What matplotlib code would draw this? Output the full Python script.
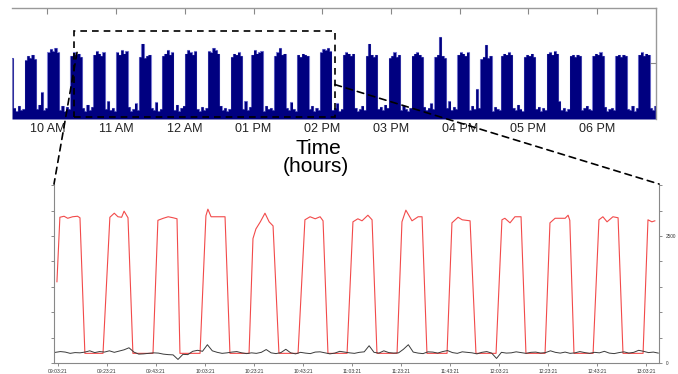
import numpy as np
import matplotlib.pyplot as plt
from matplotlib.patches import Rectangle, ConnectionPatch

plt.rcParams['font.family'] = ['Liberation Sans', 'DejaVu Sans']

# ---- top panel: load, one sample every 2 minutes starting 09:29 ----
top_start_h = 9 + 29 / 60
top_step_min = 2
top_load = [
    0.55, 0.10, 0.07, 0.12, 0.08, 0.09,
    0.53, 0.57, 0.55, 0.58, 0.54, 0.09, 0.13, 0.24, 0.08, 0.10,
    0.60, 0.63, 0.61, 0.64, 0.60, 0.08, 0.12, 0.07, 0.11, 0.09,
    0.57, 0.60, 0.58, 0.59, 0.56, 0.10, 0.07, 0.13, 0.08, 0.11,
    0.58, 0.61, 0.59, 0.57, 0.60, 0.09, 0.16, 0.08, 0.10, 0.07,
    0.60, 0.58, 0.62, 0.59, 0.61, 0.11, 0.07, 0.09, 0.14, 0.08,
    0.56, 0.68, 0.55, 0.57, 0.58, 0.10, 0.08, 0.15, 0.07, 0.09,
    0.57, 0.59, 0.62, 0.58, 0.60, 0.08, 0.13, 0.07, 0.10, 0.12,
    0.59, 0.62, 0.60, 0.58, 0.61, 0.09, 0.07, 0.11, 0.08, 0.10,
    0.61, 0.60, 0.64, 0.62, 0.59, 0.12, 0.08, 0.10, 0.07, 0.09,
    0.56, 0.59, 0.58, 0.60, 0.57, 0.09, 0.16, 0.08, 0.11,
    0.58, 0.62, 0.59, 0.60, 0.61, 0.07, 0.12, 0.09, 0.10, 0.08,
    0.57, 0.60, 0.64, 0.58, 0.59, 0.10, 0.08, 0.15, 0.09, 0.07,
    0.58, 0.56, 0.59, 0.58, 0.57, 0.09, 0.12, 0.07, 0.10, 0.08,
    0.60, 0.63, 0.62, 0.64, 0.61, 0.08, 0.10, 0.14, 0.07, 0.09,
    0.58, 0.60, 0.59, 0.57, 0.59, 0.10, 0.07, 0.09, 0.12, 0.08,
    0.57, 0.68, 0.58, 0.56, 0.58, 0.09, 0.11, 0.08, 0.13, 0.10,
    0.55, 0.57, 0.60, 0.56, 0.58, 0.08, 0.12, 0.09, 0.07, 0.10,
    0.57, 0.59, 0.60, 0.58, 0.56, 0.11, 0.08, 0.10, 0.14, 0.09,
    0.56, 0.58, 0.74, 0.57, 0.55, 0.10, 0.16, 0.08, 0.11, 0.09,
    0.58, 0.60, 0.59, 0.57, 0.60, 0.08, 0.12, 0.09, 0.27, 0.10,
    0.54, 0.56, 0.67, 0.55, 0.57, 0.07, 0.11, 0.09, 0.08,
    0.57, 0.59, 0.58, 0.60, 0.58, 0.10, 0.08, 0.13, 0.09, 0.07,
    0.56, 0.58, 0.57, 0.59, 0.56, 0.09, 0.11, 0.07, 0.10, 0.08,
    0.59, 0.60, 0.58, 0.61, 0.59, 0.16, 0.08, 0.10, 0.07, 0.09,
    0.57, 0.58, 0.56, 0.58, 0.57, 0.08, 0.10, 0.12, 0.09, 0.08,
    0.57, 0.59, 0.58, 0.60, 0.57, 0.11, 0.07, 0.09, 0.10, 0.08,
    0.57, 0.58, 0.56, 0.58, 0.57, 0.09, 0.08, 0.12, 0.07, 0.10,
    0.58, 0.60, 0.57, 0.59, 0.58, 0.10, 0.08, 0.12,
]
top_hours = [10, 11, 12, 13, 14, 15, 16, 17, 18]
top_labels = ['10 AM', '11 AM', '12 AM', '01 PM', '02 PM', '03 PM', '04 PM', '05 PM', '06 PM']
zoom_window = (10.386, 14.185)

# ---- bottom panel: minutes after 09:03:21 ----
red_t = [-0.4, 0.8, 2.5, 4.0, 6.0, 8.0, 9.0, 11.0,
         18.4, 21.2, 23.0, 24.5, 26.0, 27.0, 28.6, 30.6,
         38.8, 40.8, 43.0, 45.0, 47.0, 48.6, 49.8,
         58.0, 60.4, 61.2, 62.5, 65.0, 68.2, 70.2,
         78.0, 79.6, 80.8, 82.6, 84.5, 86.2, 87.8, 90.2,
         98.0, 100.8, 102.9, 105.0, 107.0, 108.2, 110.2,
         118.0, 120.4, 122.4, 124.1, 126.5, 128.2, 130.2,
         138.4, 140.4, 142.0, 144.5, 147.0, 148.6, 150.6,
         158.8, 160.8, 163.3, 165.0, 168.2, 170.6,
         178.8, 181.2, 182.4, 184.5, 186.5, 189.0, 191.0,
         198.8, 200.8, 202.9, 207.0, 208.2, 208.9, 210.6,
         218.4, 220.8, 222.4, 224.1, 226.5, 228.6, 230.6,
         238.8, 240.8, 242.4, 243.6]
red_v = [1600, 2870, 2890, 2850, 2880, 2890, 2860, 190,
         190, 2870, 2950, 2880, 2870, 2990, 2860, 190,
         190, 2810, 2850, 2880, 2860, 2840, 190,
         190, 2900, 3030, 2880, 2880, 2880, 190,
         190, 2450, 2640, 2780, 2950, 2780, 2700, 190,
         190, 2820, 2880, 2840, 2880, 2800, 190,
         190, 2780, 2840, 2800, 2910, 2820, 190,
         190, 2780, 3010, 2800, 2880, 2880, 190,
         190, 2760, 2870, 2820, 2800, 190,
         190, 2820, 2850, 2760, 2880, 2880, 190,
         190, 2760, 2850, 2850, 2910, 2810, 190,
         190, 2820, 2880, 2780, 2880, 2860, 190,
         190, 2820, 2780, 2800]
black_start = -1
black_step = 2
black_v = [210, 225, 215, 190, 205, 200, 215, 240, 205, 225,
           215, 240, 210, 235, 260, 300, 215, 175, 180, 190,
           200, 195, 175, 165, 160, 70, 170, 165, 230, 250,
           230, 360, 240, 210, 190, 200, 215, 225, 200, 185,
           200, 190, 210, 265, 200, 185, 205, 270, 200, 180,
           210, 195, 185, 215, 220, 200, 180, 195, 230, 215,
           200, 190, 210, 220, 340, 210, 195, 240, 205, 195,
           200, 270, 360, 215, 195, 185, 220, 215, 195, 225,
           245, 205, 190, 220, 210, 200, 180, 210, 225, 195,
           90, 210, 195, 200, 220, 205, 190, 210, 215, 195,
           205, 240, 210, 195, 215, 190, 200, 225, 205, 190,
           210, 200, 230, 195, 185, 205, 220, 195, 210, 250,
           230, 205, 215, 195]
bottom_ticks = [0, 20, 40, 60, 80, 100, 120, 140, 160, 180, 200, 220, 240]
bottom_labels = ['09:03:21', '09:23:21', '09:43:21', '10:03:21', '10:23:21', '10:43:21',
                 '11:03:21', '11:23:21', '11:43:21', '12:03:21', '12:23:21', '12:43:21',
                 '13:03:21']
y_ticks = [0, 500, 1000, 1500, 2000, 2500, 3000, 3500]
right_labels = ['0', '', '', '', '', '2500', '', '']

fig = plt.figure(figsize=(6.78, 3.74), dpi=100)

# top overview
ax1 = fig.add_axes([12 / 678, 1 - 119 / 374, 644 / 678, 111 / 374])
t_top = top_start_h + np.arange(len(top_load)) * top_step_min / 60
ax1.fill_between(t_top, 0, top_load, step='mid', color='#000080', lw=0, zorder=2)
ax1.plot(t_top, top_load, drawstyle='steps-mid', color='#8080d8', lw=0.8, zorder=1)
ax1.set_xlim(top_start_h, top_start_h + 562.5 / 60)
ax1.set_ylim(0, 1)
ax1.set_xticks(top_hours)
ax1.set_xticklabels(top_labels, fontsize=9, color='#222222')
ax1.tick_params(axis='x', top=True, bottom=False, direction='in', length=4,
                color='#888888', pad=3)
ax1.yaxis.tick_right()
ax1.set_yticks([0.5])
ax1.set_yticklabels([])
ax1.tick_params(axis='y', direction='in', length=4, color='#888888')
ax1.spines['left'].set_visible(False)
ax1.spines['bottom'].set_visible(False)
for s in ['top', 'right']:
    ax1.spines[s].set_color('#999999')
    ax1.spines[s].set_linewidth(1.0)

ax1.add_patch(Rectangle((zoom_window[0], 0.018), zoom_window[1] - zoom_window[0], 0.775,
                        fill=False, ls=(0, (4, 3)), lw=1.2, ec='black', zorder=5,
                        clip_on=False))

fig.text(318 / 678, 1 - 148 / 374, 'Time', fontsize=15, ha='center', va='center')
fig.text(316 / 678, 1 - 166 / 374, '(hours)', fontsize=15, ha='center', va='center')

# bottom zoomed view
ax2 = fig.add_axes([54 / 678, 1 - 363 / 374, 605 / 678, 179 / 374])
ax2.plot(red_t, red_v, color='#f24a4a', lw=0.8, zorder=2)
t_black = black_start + np.arange(len(black_v)) * black_step
ax2.plot(t_black, black_v, color='#3a3a3a', lw=0.7, zorder=3)
ax2.set_xlim(-1.6, 245.3)
ax2.set_ylim(0, 3525)
ax2.set_xticks(bottom_ticks)
ax2.set_xticklabels(bottom_labels, fontsize=3.6, color='#333333')
ax2.set_yticks(y_ticks)
ax2.set_yticklabels(right_labels, fontsize=3.4, color='#333333')
ax2.tick_params(axis='both', length=2.5, width=0.6, color='#777777', pad=1.5)
ax2.tick_params(axis='y', left=True, right=True, labelleft=False, labelright=True, pad=2.5)
ax2.spines['top'].set_visible(False)
for s in ['left', 'right', 'bottom']:
    ax2.spines[s].set_color('#888888')
    ax2.spines[s].set_linewidth(0.8)

# dashed connectors from overview to zoomed view
for xy_top, xy_bot in [((10.43, 0.6), (0, 1)), ((zoom_window[1], 0.31), (1, 1))]:
    con = ConnectionPatch(xyA=xy_top, coordsA=ax1.transData,
                          xyB=xy_bot, coordsB=ax2.transAxes,
                          ls=(0, (4, 3)), lw=1.2, color='black', zorder=6)
    fig.add_artist(con)

plt.savefig('out.png', dpi=100)
